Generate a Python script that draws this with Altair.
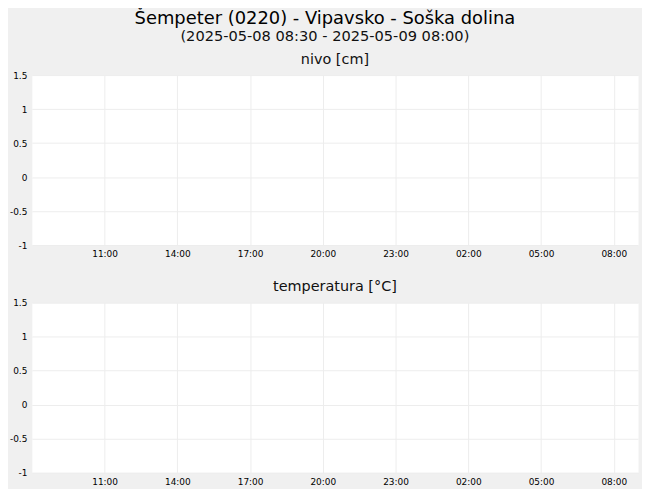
import altair as alt
import pandas as pd

main_title = "Šempeter (0220) - Vipavsko - Soška dolina"
sub_title = "(2025-05-08 08:30 - 2025-05-09 08:00)"
panel_titles = ["nivo [cm]", "temperatura [°C]"]

# x domain (local time) and tick positions
x_start = (2025, 5, 8, 8)
x_end = (2025, 5, 9, 9)
x_ticks = [(2025, 5, 8, 11), (2025, 5, 8, 14), (2025, 5, 8, 17), (2025, 5, 8, 20),
           (2025, 5, 8, 23), (2025, 5, 9, 2), (2025, 5, 9, 5), (2025, 5, 9, 8)]
y_ticks = [-1, -0.5, 0, 0.5, 1, 1.5]

# no measurements in this period: only the domain endpoints, drawn invisibly
times = ["2025-05-08T08:00:00", "2025-05-09T09:00:00"]
values = [-1, -1]
df = pd.DataFrame({"t": times, "v": values})


def dt(t):
    return alt.DateTime(year=t[0], month=t[1], date=t[2], hours=t[3])


def panel(title):
    return alt.Chart(df, title=alt.TitleParams(title, fontSize=14.5, fontWeight="normal",
                                               color="#111111", offset=4)).mark_point(opacity=0).encode(
        x=alt.X("t:T",
                scale=alt.Scale(domain=[dt(x_start), dt(x_end)]),
                axis=alt.Axis(values=[dt(t) for t in x_ticks], format="%H:%M", title=None,
                              grid=True, ticks=False, domain=False, labelFontSize=9,
                              labelPadding=5, labelColor="black")),
        y=alt.Y("v:Q",
                scale=alt.Scale(domain=[-1, 1.5], nice=False, zero=False),
                axis=alt.Axis(values=y_ticks, title=None, grid=True, ticks=False, domain=False,
                              labelExpr="datum.value + ''",
                              labelFontSize=9, labelPadding=5, labelColor="black",
                              minExtent=23, maxExtent=23)),
    ).properties(width=610, height=171)


chart = alt.vconcat(panel(panel_titles[0]), panel(panel_titles[1]), spacing=19).properties(
    title=alt.TitleParams(main_title, subtitle=sub_title, fontSize=18, subtitleFontSize=14.7,
                          fontWeight="normal", color="black", subtitleColor="#111111",
                          anchor="middle", subtitlePadding=1, offset=8),
    padding={"left": 0, "top": 0, "right": 0, "bottom": 0},
    background="#f0f0f0",
).configure(font="DejaVu Sans").configure_view(fill="white", stroke="transparent").configure_axis(
    gridColor="#ededed", gridWidth=1
)

chart.save("out.html", embed_options={"renderer": "svg", "actions": False})
